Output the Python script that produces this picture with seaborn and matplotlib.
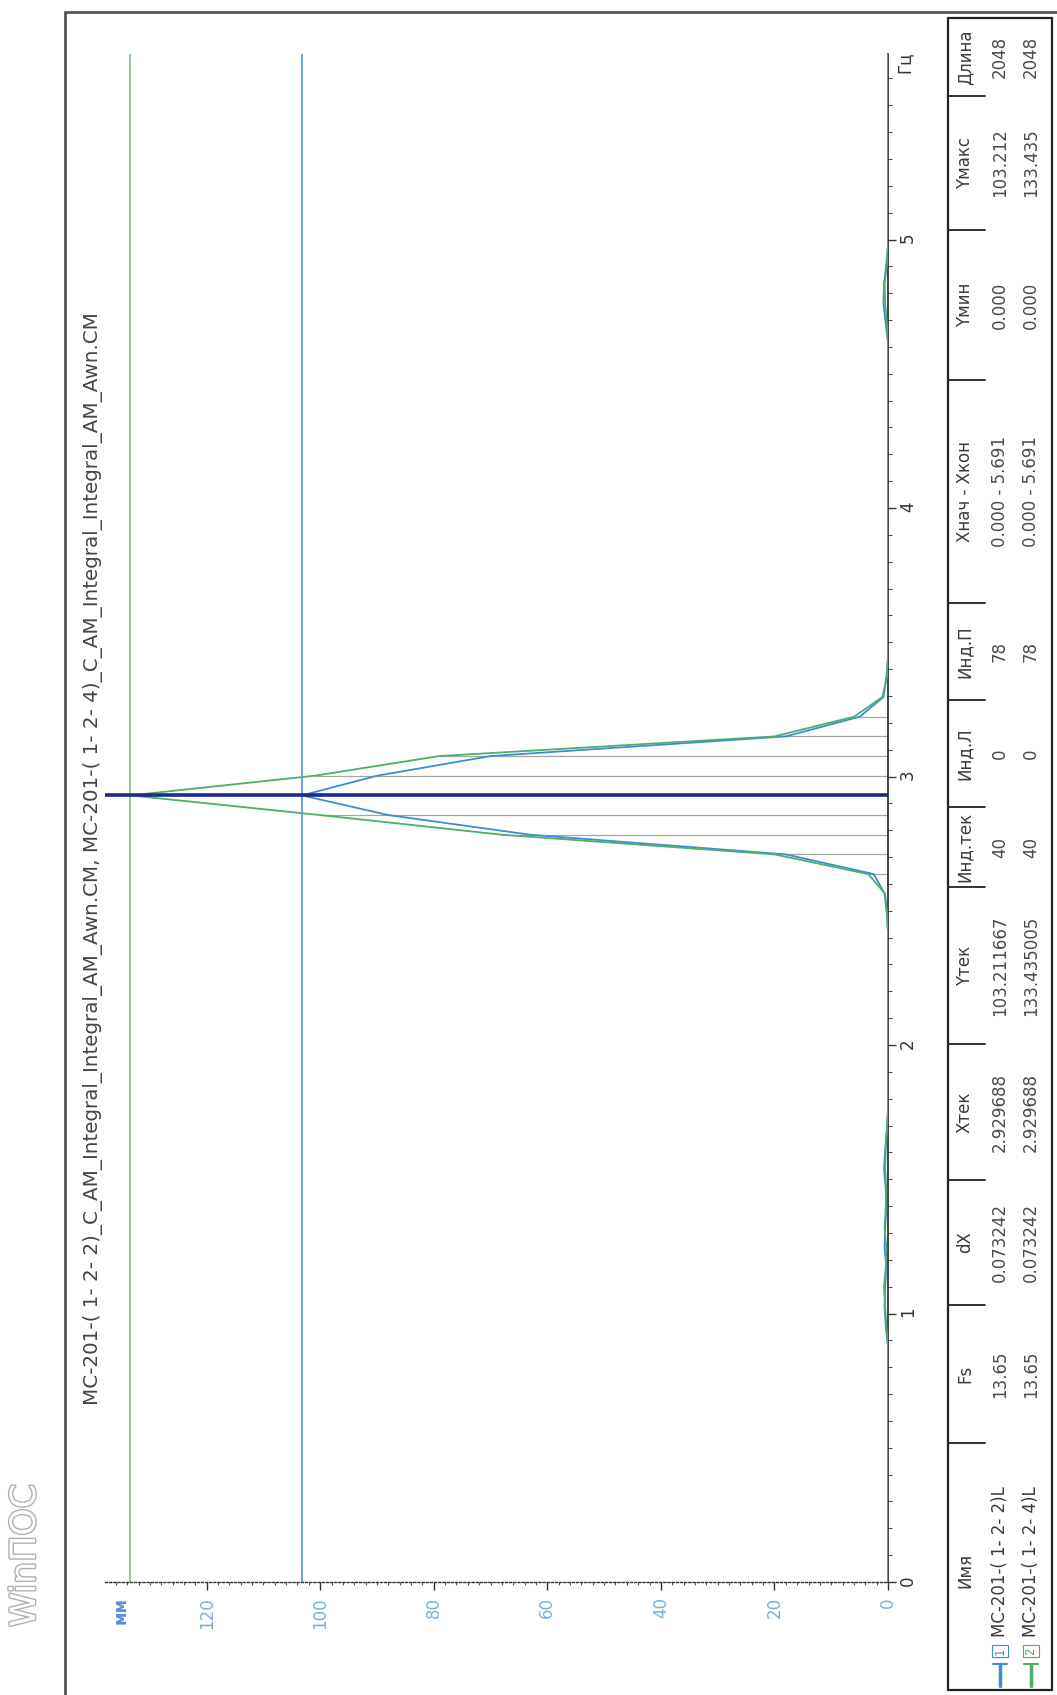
import numpy as np
import pandas as pd
import matplotlib
matplotlib.use("Agg")
import matplotlib.pyplot as plt
import seaborn as sns
from matplotlib.lines import Line2D
from matplotlib.patches import Rectangle
import matplotlib.patheffects as pe
from matplotlib.ticker import MultipleLocator

# ---------------- data ----------------
series_names = ["MC-201-( 1- 2- 2)L", "MC-201-( 1- 2- 4)L"]
title = ("MC-201-( 1- 2- 2)_C_AM_Integral_Integral_AM_Awn.CM, "
         "MC-201-( 1- 2- 4)_C_AM_Integral_Integral_AM_Awn.CM")
dX = 0.073242
n_bins = 79                      # indices 0 .. 78 (Инд.Л .. Инд.П)
freq = np.arange(n_bins) * dX    # frequency grid, Гц

amp_1 = [0, 0, 0, 0, 0, 0, 0, 0, 0, 0, 0, 0, 0,
         0.4, 0.6, 0.5, 0.3, 0.6, 0.5, 0.3, 0.4, 0.7, 0.5, 0.2,
         0, 0, 0, 0, 0, 0, 0, 0, 0, 0,
         0.2, 0.6, 2.5, 18, 63, 88, 103.212, 90, 70, 18, 5, 0.8, 0.3,
         0, 0, 0, 0, 0, 0, 0, 0, 0, 0, 0, 0, 0, 0, 0, 0, 0,
         0.4, 0.8, 0.7, 0.3,
         0, 0, 0, 0, 0, 0, 0, 0, 0, 0, 0]
amp_2 = [0, 0, 0, 0, 0, 0, 0, 0, 0, 0, 0, 0, 0,
         0.3, 0.5, 0.7, 0.4, 0.3, 0.6, 0.4, 0.3, 0.5, 0.4, 0.2,
         0, 0, 0, 0, 0, 0, 0, 0, 0, 0,
         0.2, 0.5, 3.5, 20, 68, 100, 133.435, 101, 79, 20, 6, 1.0, 0.2,
         0, 0, 0, 0, 0, 0, 0, 0, 0, 0, 0, 0, 0, 0, 0, 0, 0,
         0.2, 0.5, 0.6, 0.2,
         0, 0, 0, 0, 0, 0, 0, 0, 0, 0, 0]

cursor_x = 2.929688
cursor_y = [103.211667, 133.435005]

amp_ticks = [0, 20, 40, 60, 80, 100, 120]
freq_ticks = [0, 1, 2, 3, 4, 5]

table_headers = ["Имя", "Fs", "dX", "Xтек", "Yтек", "Инд.тек", "Инд.Л",
                 "Инд.П", "Xнач - Xкон", "Yмин", "Yмакс", "Длина"]
table_row_1 = [series_names[0], "13.65", "0.073242", "2.929688", "103.211667",
               "40", "0", "78", "0.000 - 5.691", "0.000", "103.212", "2048"]
table_row_2 = [series_names[1], "13.65", "0.073242", "2.929688", "133.435005",
               "40", "0", "78", "0.000 - 5.691", "0.000", "133.435", "2048"]

# ---------------- style ----------------
sns.set_style("white")
plt.rcParams["font.family"] = ["DejaVu Sans"]

W, H = 1057, 1695
def fx(x):
    return x / W
def fy(y):
    return 1 - y / H

c_blue = "#3c8dd8"
c_green = "#4cae6a"
c_cur_blue = "#5b9bd5"
c_cur_green = "#8cc38c"
c_text = "#3a3a3a"

fig = plt.figure(figsize=(W / 100, H / 100), dpi=100)
fig.patch.set_facecolor("white")

ax_l, ax_r, ax_b, ax_t = 105, 888, 1582, 54
ax = fig.add_axes([fx(ax_l), fy(ax_b), (ax_r - ax_l) / W, (ax_b - ax_t) / H])

df = pd.DataFrame({
    "freq": np.concatenate([freq, freq]),
    "amp": amp_1 + amp_2,
    "series": [series_names[0]] * n_bins + [series_names[1]] * n_bins,
})

# stems from zero to the spectrum value
amax = np.maximum(np.array(amp_1), np.array(amp_2))
mask = amax > 1
ax.hlines(freq[mask], 0, amax[mask], color="#a0a8a4", lw=0.9, zorder=1)

# cursor lines
ax.axvline(cursor_y[0], color=c_cur_blue, lw=1.3, zorder=2)
ax.axvline(cursor_y[1], color=c_cur_green, lw=1.3, zorder=2)

sns.lineplot(data=df, x="amp", y="freq", hue="series",
             palette={series_names[0]: c_blue, series_names[1]: c_green},
             orient="y", estimator=None, legend=False, ax=ax,
             linewidth=1.3, zorder=3)

ax.axhline(cursor_x, color="#1f2a8a", lw=2.6, zorder=4)

ax.set_xlim(137.9, 0)
ax.set_ylim(0, 5.691)
ax.set_xlabel("")
ax.set_ylabel("")

ax.yaxis.tick_right()
ax.set_xticks(amp_ticks)
ax.set_xticklabels([str(v) for v in amp_ticks])
ax.set_yticks(freq_ticks)
ax.set_yticklabels([str(v) for v in freq_ticks])
ax.xaxis.set_minor_locator(MultipleLocator(2))
ax.yaxis.set_minor_locator(MultipleLocator(0.1))

ax.tick_params(axis="x", which="major", length=6, width=1, direction="out",
               labelrotation=90, labelsize=12, labelcolor="#7aaee0", pad=5,
               bottom=True, color="#333333")
ax.tick_params(axis="x", which="minor", length=2.5, width=0.8, direction="out",
               bottom=True, color="#555555")
ax.tick_params(axis="y", which="major", length=6, width=1, direction="out",
               labelrotation=90, labelsize=12, labelcolor="#333333", pad=2,
               right=True, left=False, color="#333333")
ax.tick_params(axis="y", which="minor", length=3, width=0.8, direction="out",
               right=True, left=False, color="#555555")

for s in ["left", "top"]:
    ax.spines[s].set_visible(False)
ax.spines["right"].set_color("#222222")
ax.spines["right"].set_linewidth(1.2)
ax.spines["bottom"].set_color("#333333")
ax.spines["bottom"].set_linewidth(1.0)
ax.spines["bottom"].set_linestyle((0, (1.5, 1.5)))

# axis unit labels
fig.text(fx(905), fy(62), "Гц", rotation=90, ha="center", va="center",
         fontsize=12, color="#333333")
fig.text(fx(121), fy(1597), "мм", rotation=90, ha="center", va="top",
         fontsize=12, color="#5b8fd8", fontweight="bold")

# title
fig.text(fx(93), fy(1405), title, rotation=90, ha="center", va="bottom",
         fontsize=14.3, color="#444444")

# logo
fig.text(fx(25), fy(1627), "WinПОС", rotation=90, ha="center", va="bottom",
         fontsize=25, color="white",
         path_effects=[pe.withStroke(linewidth=2, foreground="#b0b0b0")])

# outer frame
fig.add_artist(Line2D([fx(65), fx(65)], [0, fy(12)], color="#555555", lw=2,
                      transform=fig.transFigure))
fig.add_artist(Line2D([fx(65), 1], [fy(12), fy(12)], color="#555566", lw=2,
                      transform=fig.transFigure))

# legend / info table
tb_l, tb_r, tb_t, tb_b = 948, 1052, 18, 1690
fig.add_artist(Rectangle((fx(tb_l), fy(tb_b)), (tb_r - tb_l) / W, (tb_b - tb_t) / H,
                         fill=False, lw=1.6, edgecolor="#222222",
                         transform=fig.transFigure))
col_edges = [1690, 1443, 1305, 1180, 1044, 887, 807, 700, 603, 380, 230, 96, 18]
for y in col_edges[1:-1]:
    fig.add_artist(Line2D([fx(tb_l), fx(985)], [fy(y), fy(y)], color="#222222",
                          lw=1.3, transform=fig.transFigure))

x_head, x_r1, x_r2 = 965, 1000, 1031
for i, (hd, v1, v2) in enumerate(zip(table_headers, table_row_1, table_row_2)):
    y0, y1 = col_edges[i], col_edges[i + 1]
    yc = (y0 + y1) / 2
    if i == 0:
        fig.text(fx(x_head), fy(1570), hd, rotation=90, ha="center", va="center",
                 fontsize=12, color=c_text)
        fig.text(fx(x_r1), fy(1637), v1, rotation=90, ha="center", va="bottom",
                 fontsize=12, color=c_text)
        fig.text(fx(x_r2), fy(1637), v2, rotation=90, ha="center", va="bottom",
                 fontsize=12, color=c_text)
    else:
        fig.text(fx(x_head), fy(yc), hd, rotation=90, ha="center", va="center",
                 fontsize=12, color=c_text)
        fig.text(fx(x_r1), fy(yc), v1, rotation=90, ha="center", va="center",
                 fontsize=12, color="#4a4a4a")
        fig.text(fx(x_r2), fy(yc), v2, rotation=90, ha="center", va="center",
                 fontsize=12, color="#4a4a4a")

# legend markers
for xr, col, num in [(x_r1, c_blue, "1"), (x_r2, c_green, "2")]:
    fig.add_artist(Line2D([fx(xr), fx(xr)], [fy(1686), fy(1664)], color=col, lw=2.5,
                          transform=fig.transFigure))
    fig.add_artist(Line2D([fx(xr - 7), fx(xr + 7)], [fy(1664), fy(1664)], color=col,
                          lw=1.5, transform=fig.transFigure))
    fig.text(fx(xr), fy(1651), num, rotation=90, ha="center", va="center",
             fontsize=8.5, color=col,
             bbox=dict(boxstyle="square,pad=0.15", fc="white", ec=col, lw=0.8))

fig.savefig("out.png", dpi=100, facecolor="white")
